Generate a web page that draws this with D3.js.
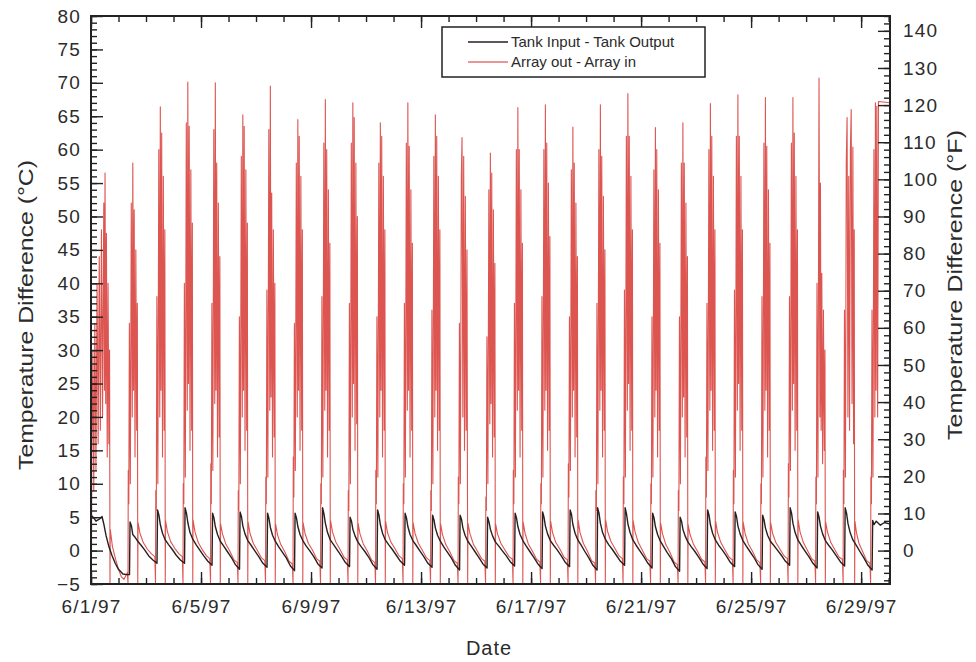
<!DOCTYPE html>
<html><head><meta charset="utf-8">
<script src="https://cdn.jsdelivr.net/npm/d3@7"></script>
<style>
html,body{margin:0;padding:0;background:#fff;}
svg{display:block;}
text{font-family:"Liberation Sans",Arial,Helvetica,sans-serif;fill:#2b2b2b;}
</style></head><body>
<svg id="chart" width="976" height="662"></svg>
<script>
// ---------------- data (days since 6/1/97 00:00, °C) ----------------
const seriesNames = ["Tank Input - Tank Output", "Array out - Array in"];
const xTickLabels = ["6/1/97","6/5/97","6/9/97","6/13/97","6/17/97","6/21/97","6/25/97","6/29/97"];
const xDomainLabels = ["6/1/97 00:00", "6/30/97 01:12"];
const yTicksC = [-5,0,5,10,15,20,25,30,35,40,45,50,55,60,65,70,75,80];
const yTicksF = [0,10,20,30,40,50,60,70,80,90,100,110,120,130,140];
const axisTitleLeft = "Temperature Difference (°C)";
const axisTitleRight = "Temperature Difference (°F)";
const axisTitleBottom = "Date";

const tankDiff = [
[0.00,5.3],[0.08,5.0],[0.18,4.4],[0.30,4.7],[0.40,5.1],[0.47,3.9],[0.55,2.2],[0.65,0.6],[0.76,-0.7],[0.88,-1.9],[1.00,-2.8],[1.16,-3.5],[1.30,-3.6],[1.40,-3.6],
[1.42,4.3],[1.47,3.7],[1.52,2.4],[1.60,2.0],[1.70,1.4],[1.82,0.8],[1.95,0.1],[2.10,-0.8],[2.25,-1.4],[2.40,-1.9],
[2.42,6.1],[2.47,5.3],[2.52,3.9],[2.60,2.6],[2.70,1.6],[2.82,0.9],[2.95,0.2],[3.10,-0.7],[3.25,-1.4],[3.40,-1.9],
[3.42,6.4],[3.47,5.6],[3.52,4.2],[3.60,2.7],[3.70,1.7],[3.82,0.9],[3.95,0.1],[4.10,-0.8],[4.25,-1.6],[4.40,-2.2],
[4.42,5.6],[4.47,4.9],[4.52,3.6],[4.60,2.4],[4.70,1.4],[4.82,0.7],[4.95,-0.1],[5.10,-1.0],[5.25,-2.1],[5.40,-2.8],
[5.42,5.8],[5.47,5.1],[5.52,3.7],[5.60,2.5],[5.70,1.5],[5.82,0.8],[5.95,0.0],[6.10,-0.9],[6.25,-1.9],[6.40,-2.5],
[6.42,5.6],[6.47,4.8],[6.52,3.5],[6.60,2.3],[6.70,1.4],[6.82,0.6],[6.95,-0.2],[7.10,-1.1],[7.25,-2.3],[7.40,-3.0],
[7.42,5.6],[7.47,4.9],[7.52,3.6],[7.60,2.4],[7.70,1.5],[7.82,0.7],[7.95,0.0],[8.10,-0.9],[8.25,-2.0],[8.40,-2.6],
[8.42,6.4],[8.47,5.5],[8.52,4.1],[8.60,2.7],[8.70,1.6],[8.82,0.9],[8.95,0.1],[9.10,-0.8],[9.25,-1.8],[9.40,-2.4],
[9.42,5.0],[9.47,4.4],[9.52,3.2],[9.60,2.2],[9.70,1.3],[9.82,0.6],[9.95,-0.1],[10.10,-1.0],[10.25,-2.1],[10.40,-2.8],
[10.42,6.1],[10.47,5.3],[10.52,3.9],[10.60,2.6],[10.70,1.6],[10.82,0.9],[10.95,0.2],[11.10,-0.7],[11.25,-1.6],[11.40,-2.2],
[11.42,5.6],[11.47,4.9],[11.52,3.6],[11.60,2.4],[11.70,1.5],[11.82,0.8],[11.95,0.0],[12.10,-0.9],[12.25,-1.9],[12.40,-2.5],
[12.42,5.3],[12.47,4.6],[12.52,3.4],[12.60,2.3],[12.70,1.4],[12.82,0.6],[12.95,-0.2],[13.10,-1.1],[13.25,-2.2],[13.40,-2.9],
[13.42,5.3],[13.47,4.7],[13.52,3.4],[13.60,2.3],[13.70,1.4],[13.82,0.7],[13.95,-0.1],[14.10,-1.0],[14.25,-2.0],[14.40,-2.6],
[14.42,5.0],[14.47,4.3],[14.52,3.2],[14.60,2.2],[14.70,1.3],[14.82,0.7],[14.95,0.0],[15.10,-0.8],[15.25,-1.7],[15.40,-2.3],
[15.42,5.6],[15.47,4.9],[15.52,3.6],[15.60,2.4],[15.70,1.5],[15.82,0.7],[15.95,-0.1],[16.10,-1.0],[16.25,-2.0],[16.40,-2.7],
[16.42,5.8],[16.47,5.0],[16.52,3.7],[16.60,2.5],[16.70,1.5],[16.82,0.8],[16.95,0.1],[17.10,-0.8],[17.25,-1.8],[17.40,-2.4],
[17.42,6.1],[17.47,5.4],[17.52,3.9],[17.60,2.6],[17.70,1.6],[17.82,0.8],[17.95,-0.1],[18.10,-1.1],[18.25,-2.2],[18.40,-2.9],
[18.42,6.4],[18.47,5.6],[18.52,4.1],[18.60,2.7],[18.70,1.7],[18.82,0.9],[18.95,0.2],[19.10,-0.7],[19.25,-1.6],[19.40,-2.2],
[19.42,6.4],[19.47,5.5],[19.52,4.0],[19.60,2.7],[19.70,1.6],[19.82,0.8],[19.95,0.0],[20.10,-0.9],[20.25,-1.9],[20.40,-2.6],
[20.42,5.6],[20.47,4.9],[20.52,3.6],[20.60,2.4],[20.70,1.4],[20.82,0.6],[20.95,-0.3],[21.10,-1.2],[21.25,-2.4],[21.40,-3.1],
[21.42,5.0],[21.47,4.4],[21.52,3.2],[21.60,2.2],[21.70,1.3],[21.82,0.6],[21.95,-0.1],[22.10,-1.0],[22.25,-2.0],[22.40,-2.7],
[22.42,6.1],[22.47,5.3],[22.52,3.9],[22.60,2.6],[22.70,1.6],[22.82,0.8],[22.95,0.1],[23.10,-0.8],[23.25,-1.8],[23.40,-2.4],
[23.42,5.8],[23.47,5.1],[23.52,3.7],[23.60,2.5],[23.70,1.5],[23.82,0.7],[23.95,-0.1],[24.10,-1.0],[24.25,-2.1],[24.40,-2.8],
[24.42,5.3],[24.47,4.6],[24.52,3.4],[24.60,2.3],[24.70,1.4],[24.82,0.8],[24.95,0.1],[25.10,-0.7],[25.25,-1.6],[25.40,-2.2],
[25.42,6.4],[25.47,5.6],[25.52,4.1],[25.60,2.7],[25.70,1.6],[25.82,0.8],[25.95,0.0],[26.10,-0.9],[26.25,-1.9],[26.40,-2.6],
[26.42,5.8],[26.47,5.0],[26.52,3.7],[26.60,2.5],[26.70,1.5],[26.82,0.8],[26.95,0.1],[27.10,-0.8],[27.25,-1.7],[27.40,-2.3],
[27.42,6.4],[27.47,5.6],[27.52,4.1],[27.60,2.7],[27.70,1.6],[27.82,0.8],[27.95,-0.1],[28.10,-1.1],[28.25,-2.2],[28.40,-2.9],
[28.42,4.5],[28.47,3.9],[28.55,4.4],[28.70,3.8],[28.85,4.2],[29.10,3.9]
];

const arrayDiff = [
[0.00,5.5],[0.015,-4.8],[0.03,14],[0.07,30],[0.10,9],[0.14,34],[0.18,12],[0.22,40],[0.26,16],[0.30,44],[0.34,18],[0.38,48],[0.42,20],[0.465,52],[0.49,24],[0.51,56.5],[0.535,22],[0.56,47.5],[0.59,14],[0.62,40],[0.65,16],[0.675,30],[0.69,-4.8],[0.70,3.2],[0.78,0.6],[0.90,-1.4],[1.00,-2.8],[1.10,-3.9],[1.20,-4.3],
[1.32,-3.3],[1.345,-4.8],[1.355,12],[1.375,7],[1.395,34],[1.43,10],[1.465,52],[1.50,20],[1.52,58],[1.545,24],[1.57,51],[1.60,14],[1.63,45],[1.66,18],[1.685,37],[1.70,-4.8],[1.71,4.2],[1.78,2.6],[1.90,1.2],[2.05,0.2],[2.20,-0.5],
[2.32,-0.9],[2.345,-4.8],[2.355,9],[2.375,6],[2.395,38],[2.43,10],[2.465,60],[2.50,20],[2.52,66.4],[2.545,24],[2.57,62.5],[2.60,14],[2.63,56],[2.66,18],[2.685,48],[2.70,-4.8],[2.71,4.5],[2.78,2.8],[2.90,1.3],[3.05,0.3],[3.20,-0.5],
[3.32,-0.9],[3.345,-4.8],[3.355,10],[3.375,7],[3.395,40],[3.43,11],[3.465,64],[3.50,21],[3.52,70.1],[3.545,25],[3.57,63.5],[3.60,15],[3.63,57],[3.66,18],[3.685,49],[3.70,-4.8],[3.71,4.6],[3.78,2.8],[3.90,1.2],[4.05,0.1],[4.20,-0.8],
[4.32,-1.2],[4.345,-4.8],[4.355,13],[4.375,7],[4.395,37],[4.43,12],[4.465,63],[4.50,22],[4.52,70],[4.545,24],[4.57,58],[4.60,14],[4.63,52],[4.66,17],[4.685,44],[4.70,-4.8],[4.71,4.0],[4.78,2.5],[4.90,1.0],[5.05,-0.1],[5.20,-1.4],
[5.32,-1.8],[5.345,-4.8],[5.355,9],[5.375,6],[5.395,35],[5.43,10],[5.465,59],[5.50,20],[5.52,65.2],[5.545,24],[5.57,63.5],[5.60,15],[5.63,57],[5.66,18],[5.685,49],[5.70,-4.8],[5.71,4.3],[5.78,2.6],[5.90,1.1],[6.05,0.0],[6.20,-1.1],
[6.32,-1.5],[6.345,-4.8],[6.355,11],[6.375,7],[6.395,39],[6.43,11],[6.465,63],[6.50,21],[6.52,69.5],[6.545,23],[6.57,53.5],[6.60,14],[6.63,48],[6.66,17],[6.685,40],[6.70,-4.8],[6.71,4.0],[6.78,2.4],[6.90,0.9],[7.05,-0.2],[7.20,-1.6],
[7.32,-2.0],[7.345,-4.8],[7.355,14],[7.375,8],[7.395,34],[7.43,12],[7.465,58],[7.50,20],[7.52,64.5],[7.545,24],[7.57,62],[7.60,15],[7.63,56],[7.66,18],[7.685,48],[7.70,-4.8],[7.71,4.2],[7.78,2.6],[7.90,1.1],[8.05,0.1],[8.20,-1.2],
[8.32,-1.6],[8.345,-4.8],[8.355,10],[8.375,7],[8.395,38],[8.43,11],[8.465,61],[8.50,21],[8.52,67.5],[8.545,24],[8.57,60],[8.60,14],[8.63,54],[8.66,18],[8.685,46],[8.70,-4.8],[8.71,4.5],[8.78,2.8],[8.90,1.3],[9.05,0.2],[9.20,-1.0],
[9.32,-1.4],[9.345,-4.8],[9.355,9],[9.375,6],[9.395,37],[9.43,10],[9.465,61],[9.50,20],[9.52,67],[9.545,25],[9.57,64.8],[9.60,15],[9.63,58],[9.66,19],[9.685,50],[9.70,-4.8],[9.71,4.1],[9.78,2.5],[9.90,1.0],[10.05,-0.1],[10.20,-1.4],
[10.32,-1.8],[10.345,-4.8],[10.355,12],[10.375,7],[10.395,35],[10.43,11],[10.465,58],[10.50,20],[10.52,64],[10.545,24],[10.57,62],[10.60,14],[10.63,56],[10.66,18],[10.685,48],[10.70,-4.8],[10.71,4.4],[10.78,2.7],[10.90,1.3],[11.05,0.3],[11.20,-0.8],
[11.32,-1.2],[11.345,-4.8],[11.355,10],[11.375,7],[11.395,37],[11.43,11],[11.465,61],[11.50,21],[11.52,67],[11.545,24],[11.57,60.5],[11.60,14],[11.63,54],[11.66,18],[11.685,46],[11.70,-4.8],[11.71,4.2],[11.78,2.6],[11.90,1.1],[12.05,0.0],[12.20,-1.1],
[12.32,-1.5],[12.345,-4.8],[12.355,9],[12.375,6],[12.395,36],[12.43,10],[12.465,59],[12.50,20],[12.52,65.2],[12.545,24],[12.57,62],[12.60,15],[12.63,56],[12.66,18],[12.685,48],[12.70,-4.8],[12.71,4.0],[12.78,2.4],[12.90,0.9],[13.05,-0.2],[13.20,-1.5],
[13.32,-1.9],[13.345,-4.8],[13.355,11],[13.375,7],[13.395,34],[13.43,10],[13.465,56],[13.49,61.8],[13.52,20],[13.55,59],[13.58,15],[13.61,53],[13.64,18],[13.67,45],[13.695,-4.8],[13.705,4.1],[13.78,2.5],[13.90,1.0],[14.05,-0.1],[14.20,-1.2],
[14.32,-1.6],[14.345,-4.8],[14.355,8],[14.375,6],[14.395,32],[14.43,10],[14.465,54],[14.50,19],[14.52,59.5],[14.545,22],[14.57,56.5],[14.60,14],[14.63,51],[14.66,17],[14.685,43],[14.70,-4.8],[14.71,4.0],[14.78,2.5],[14.90,1.1],[15.05,0.1],[15.20,-0.9],
[15.32,-1.3],[15.345,-4.8],[15.355,12],[15.375,7],[15.395,37],[15.43,11],[15.465,60],[15.50,21],[15.52,66.3],[15.545,24],[15.57,60],[15.60,14],[15.63,54],[15.66,18],[15.685,46],[15.70,-4.8],[15.71,4.3],[15.78,2.6],[15.90,1.0],[16.05,-0.1],[16.20,-1.3],
[16.32,-1.7],[16.345,-4.8],[16.355,10],[16.375,7],[16.395,38],[16.43,11],[16.465,60],[16.50,21],[16.52,66.7],[16.545,24],[16.57,61],[16.60,15],[16.63,55],[16.66,18],[16.685,47],[16.70,-4.8],[16.71,4.4],[16.78,2.7],[16.90,1.2],[17.05,0.2],[17.20,-1.0],
[17.32,-1.4],[17.345,-4.8],[17.355,13],[17.375,8],[17.395,35],[17.43,12],[17.465,57],[17.50,20],[17.52,63.4],[17.545,24],[17.57,58],[17.60,14],[17.63,52],[17.66,17],[17.685,44],[17.70,-4.8],[17.71,4.6],[17.78,2.7],[17.90,1.1],[18.05,-0.1],[18.20,-1.5],
[18.32,-1.9],[18.345,-4.8],[18.355,9],[18.375,6],[18.395,37],[18.43,10],[18.465,60],[18.50,21],[18.52,66.7],[18.545,24],[18.57,59],[18.60,14],[18.63,53],[18.66,18],[18.685,45],[18.70,-4.8],[18.71,4.6],[18.78,2.9],[18.90,1.4],[19.05,0.3],[19.20,-0.8],
[19.32,-1.2],[19.345,-4.8],[19.355,11],[19.375,7],[19.395,39],[19.43,11],[19.465,62],[19.50,21],[19.52,68.4],[19.545,25],[19.57,62],[19.60,15],[19.63,56],[19.66,18],[19.685,48],[19.70,-4.8],[19.71,4.5],[19.78,2.8],[19.90,1.2],[20.05,0.0],[20.20,-1.2],
[20.32,-1.6],[20.345,-4.8],[20.355,10],[20.375,7],[20.395,35],[20.43,11],[20.465,57],[20.50,20],[20.52,63.3],[20.545,24],[20.57,60],[20.60,14],[20.63,54],[20.66,18],[20.685,46],[20.70,-4.8],[20.71,4.1],[20.78,2.5],[20.90,0.9],[21.05,-0.3],[21.20,-1.7],
[21.32,-2.1],[21.345,-4.8],[21.355,9],[21.375,6],[21.395,35],[21.43,10],[21.465,58],[21.50,20],[21.52,64],[21.545,23],[21.57,58],[21.60,14],[21.63,52],[21.66,17],[21.685,44],[21.70,-4.8],[21.71,3.9],[21.78,2.4],[21.90,1.0],[22.05,-0.1],[22.20,-1.3],
[22.32,-1.7],[22.345,-4.8],[22.355,14],[22.375,8],[22.395,37],[22.43,12],[22.465,60],[22.50,21],[22.52,66.9],[22.545,24],[22.57,62],[22.60,15],[22.63,56],[22.66,18],[22.685,48],[22.70,-4.8],[22.71,4.4],[22.78,2.7],[22.90,1.2],[23.05,0.1],[23.20,-1.0],
[23.32,-1.4],[23.345,-4.8],[23.355,12],[23.375,7],[23.395,39],[23.43,11],[23.465,62],[23.50,21],[23.52,68.2],[23.545,25],[23.57,62],[23.60,15],[23.63,56],[23.66,18],[23.685,48],[23.70,-4.8],[23.71,4.3],[23.78,2.6],[23.90,1.0],[24.05,-0.1],[24.20,-1.4],
[24.32,-1.8],[24.345,-4.8],[24.355,10],[24.375,7],[24.395,38],[24.43,11],[24.465,61],[24.50,21],[24.52,67.8],[24.545,24],[24.57,60.5],[24.60,14],[24.63,54],[24.66,18],[24.685,46],[24.70,-4.8],[24.71,4.2],[24.78,2.6],[24.90,1.2],[25.05,0.2],[25.20,-0.8],
[25.32,-1.2],[25.345,-4.8],[25.355,13],[25.375,8],[25.395,38],[25.43,12],[25.465,61],[25.50,21],[25.52,67.8],[25.545,25],[25.57,62.5],[25.60,15],[25.63,56],[25.66,18],[25.685,48],[25.70,-4.8],[25.71,4.6],[25.78,2.8],[25.90,1.2],[26.05,0.0],[26.20,-1.2],
[26.32,-1.6],[26.345,-4.8],[26.355,11],[26.375,7],[26.395,40],[26.43,11],[26.47,70.7],[26.50,20],[26.52,55],[26.545,18],[26.57,41.5],[26.60,13],[26.63,36],[26.66,15],[26.685,30],[26.70,-4.8],[26.71,4.3],[26.78,2.7],[26.90,1.2],[27.05,0.1],[27.20,-1.0],
[27.32,-1.3],[27.345,-4.8],[27.355,12],[27.375,7],[27.395,36],[27.43,11],[27.46,58],[27.49,64.8],[27.52,20],[27.55,56],[27.58,18],[27.61,60],[27.64,66],[27.67,22],[27.70,60.4],[27.725,16],[27.75,48],[27.765,-4.8],[27.775,4.4],[27.83,2.7],[27.92,1.1],[28.05,-0.1],[28.20,-1.5],
[28.32,-1.9],[28.345,-4.8],[28.355,11],[28.375,7],[28.395,36],[28.43,11],[28.465,60],[28.50,20],[28.52,67],[28.545,24],[28.57,66.5],[28.60,20],[28.63,67.2],[29.10,67]
];

// ---------------- layout ----------------
const W = 976, H = 662;
const plot = {left: 91, right: 890, top: 16, bottom: 584};
const colors = {tank: "#2a1f1f", array: "#d42f2a", axis: "#222", text: "#2b2b2b"};

const svg = d3.select("#chart");
svg.append("rect").attr("width", W).attr("height", H).attr("fill", "#fff");

const parseLabel = d3.utcParse("%m/%d/%y");
const parseFull = d3.utcParse("%m/%d/%y %H:%M");
const t0 = parseFull(xDomainLabels[0]);
const tEnd = parseFull(xDomainLabels[1]);
const DAY = 864e5;
const toDate = t => new Date(t0.getTime() + t * DAY);

const x = d3.scaleUtc().domain([t0, tEnd]).range([plot.left, plot.right]);
const y = d3.scaleLinear().domain([yTicksC[0], yTicksC[yTicksC.length - 1]]).range([plot.bottom, plot.top]);
const yF = d3.scaleLinear().domain(y.domain().map(c => c * 1.8)).range([plot.bottom, plot.top]);

svg.append("defs").append("clipPath").attr("id", "clip")
  .append("rect").attr("x", plot.left).attr("y", plot.top)
  .attr("width", plot.right - plot.left).attr("height", plot.bottom - plot.top);

const line = d3.line().x(d => x(toDate(d[0]))).y(d => y(d[1]));
const gData = svg.append("g").attr("clip-path", "url(#clip)");
gData.append("path").datum(arrayDiff).attr("d", line)
  .attr("fill", "none").attr("stroke", colors.array).attr("stroke-width", 1.1)
  .attr("stroke-opacity", 0.82).attr("stroke-linejoin", "round");
gData.append("path").datum(tankDiff).attr("d", line)
  .attr("fill", "none").attr("stroke", colors.tank).attr("stroke-width", 1.4)
  .attr("stroke-linejoin", "round");

// ---------------- axes ----------------
const majorDates = xTickLabels.map(parseLabel);
const minorDates = d3.utcDay.range(t0, tEnd);
const fmt = d3.utcFormat("%-m/%-d/%y");

function styleAxis(g) {
  g.select(".domain").remove();
  g.selectAll(".tick line").attr("stroke", colors.axis).attr("stroke-width", 1.4);
  g.selectAll("text").style("font-size", "19px").style("letter-spacing", "1.2px")
    .style("fill", colors.text).style("font-family", '"Liberation Sans", Arial, sans-serif');
}

svg.append("g").attr("transform", `translate(0,${plot.bottom})`)
  .call(d3.axisBottom(x).tickValues(minorDates).tickSizeInner(-6).tickSizeOuter(0).tickFormat(""))
  .call(styleAxis);
svg.append("g").attr("transform", `translate(0,${plot.bottom})`)
  .call(d3.axisBottom(x).tickValues(majorDates).tickSizeInner(-12).tickSizeOuter(0).tickPadding(16).tickFormat(fmt))
  .call(styleAxis);
svg.append("g").attr("transform", `translate(0,${plot.top})`)
  .call(d3.axisTop(x).tickValues(minorDates).tickSizeInner(-6).tickSizeOuter(0).tickFormat(""))
  .call(styleAxis);
svg.append("g").attr("transform", `translate(0,${plot.top})`)
  .call(d3.axisTop(x).tickValues(majorDates).tickSizeInner(-12).tickSizeOuter(0).tickFormat(""))
  .call(styleAxis);
svg.append("g").attr("transform", `translate(${plot.left},0)`)
  .call(d3.axisLeft(y).tickValues(d3.range(yTicksC[0], yTicksC[yTicksC.length - 1] + 1, 1)).tickSizeInner(-6).tickSizeOuter(0).tickFormat(""))
  .call(styleAxis);
svg.append("g").attr("transform", `translate(${plot.left},0)`)
  .call(d3.axisLeft(y).tickValues(yTicksC).tickSizeInner(-12).tickSizeOuter(0).tickPadding(10).tickFormat(d3.format("d")))
  .call(styleAxis);
svg.append("g").attr("transform", `translate(${plot.right},0)`)
  .call(d3.axisRight(yF).tickValues(d3.range(-8, 145, 2)).tickSizeInner(-6).tickSizeOuter(0).tickFormat(""))
  .call(styleAxis);
svg.append("g").attr("transform", `translate(${plot.right},0)`)
  .call(d3.axisRight(yF).tickValues(yTicksF).tickSizeInner(-12).tickSizeOuter(0).tickPadding(13).tickFormat(d3.format("d")))
  .call(styleAxis);

svg.append("rect").attr("x", plot.left).attr("y", plot.top)
  .attr("width", plot.right - plot.left).attr("height", plot.bottom - plot.top)
  .attr("fill", "none").attr("stroke", colors.axis).attr("stroke-width", 2);

svg.append("text").attr("transform", "translate(33,315) rotate(-90)")
  .attr("text-anchor", "middle").style("font-size", "21px")
  .attr("textLength", 310).attr("lengthAdjust", "spacingAndGlyphs").text(axisTitleLeft);
svg.append("text").attr("transform", "translate(962,285) rotate(-90)")
  .attr("text-anchor", "middle").style("font-size", "21px")
  .attr("textLength", 310).attr("lengthAdjust", "spacingAndGlyphs").text(axisTitleRight);
svg.append("text").attr("x", 489).attr("y", 655)
  .attr("text-anchor", "middle").style("font-size", "20px").style("letter-spacing", "1px").text(axisTitleBottom);

const lg = svg.append("g");
lg.append("rect").attr("x", 442).attr("y", 27).attr("width", 263).attr("height", 50)
  .attr("fill", "#fff").attr("stroke", colors.axis).attr("stroke-width", 1.5);
const legendItems = [
  {name: seriesNames[0], color: colors.tank, w: 1.4},
  {name: seriesNames[1], color: colors.array, w: 1.2}
];
legendItems.forEach((it, i) => {
  const cy = 42 + i * 20;
  lg.append("line").attr("x1", 468).attr("x2", 508).attr("y1", cy).attr("y2", cy)
    .attr("stroke", it.color).attr("stroke-width", it.w);
  lg.append("text").attr("x", 511).attr("y", cy + 5).style("font-size", "15px").text(it.name);
});
</script>
</body></html>
